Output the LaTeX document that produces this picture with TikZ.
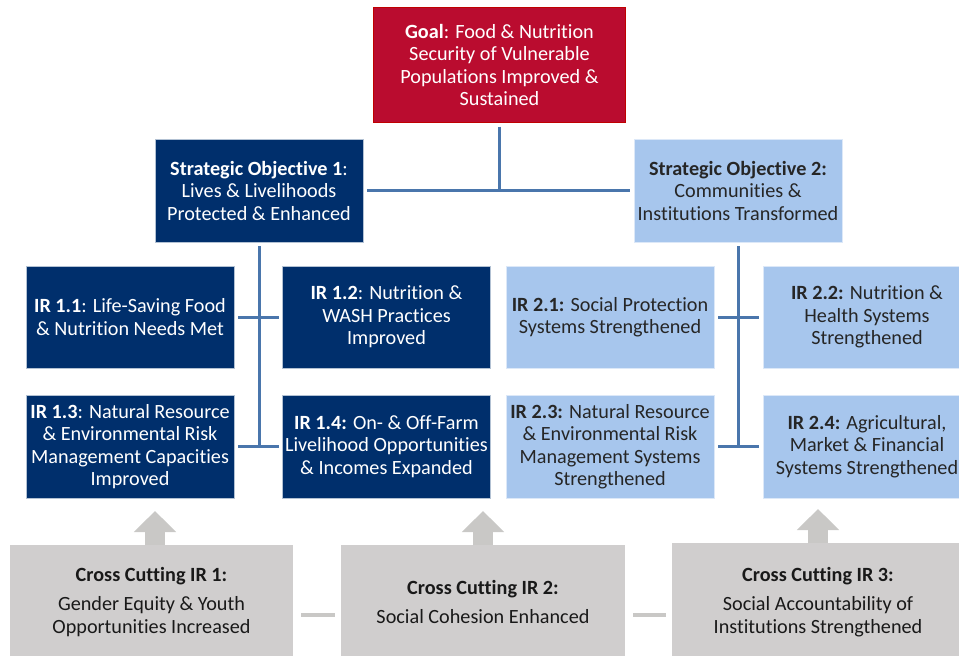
\documentclass[tikz,border=0pt]{standalone}
\usepackage{fontspec}
\setmainfont[Ligatures=NoCommon]{Carlito}
\usepackage{xcolor}
\usetikzlibrary{calc, arrows.meta}
\definecolor{goalred}{HTML}{BA0C2F}
\definecolor{goaledge}{HTML}{C00000}
\definecolor{sonavy}{HTML}{002F6C}
\definecolor{solight}{HTML}{A7C6ED}
\definecolor{linkblue}{HTML}{4A76AC}
\definecolor{ccgray}{HTML}{D0CECE}
\definecolor{ccup}{HTML}{C9C8C6}
\tikzset{
  box/.style={rectangle, align=center, inner sep=2pt, outer sep=4pt,
    font=\fontsize{20.2}{22.5}\selectfont},
  darkbox/.style={box, fill=sonavy, draw=white!70!sonavy, text=white,
    minimum width=208pt, minimum height=103pt},
  lightbox/.style={box, fill=solight, draw=white!60!solight, text=black!85,
    minimum width=208pt, minimum height=103pt},
  ccbox/.style={box, outer sep=0pt, fill=ccgray, text=black!90,
    minimum width=284pt, minimum height=114pt},
  link/.style={linkblue, line width=3pt},
  upto/.style={ccup, line width=20pt, -{Triangle[width=41pt,length=21pt]}},
  ccdash/.style={ccup, line width=4pt, shorten <=8pt, shorten >=6pt},
}

\begin{document}
\begin{tikzpicture}[x=1pt,y=-1pt]
  \useasboundingbox (0,0) rectangle (959,656);
  % goal and strategic objectives
  \node[box, fill=goalred, draw=goaledge, line width=1.5pt, text=white,
    minimum width=252pt, minimum height=115pt] (goal) at (499.5,65)
    {\textbf{Goal}: Food \& Nutrition\\ Security of Vulnerable\\
     Populations Improved \&\\ Sustained};
  \node[darkbox] (so1) at (259,190.5)
    {\textbf{Strategic Objective 1}:\\ Lives \& Livelihoods\\ Protected \& Enhanced};
  \node[lightbox] (so2) at (738,190.5)
    {\textbf{Strategic Objective 2:}\\ Communities \&\\ Institutions Transformed};

  % intermediate results
  \node[darkbox, minimum height=102pt] (ir11) at (130,317)
    {\textbf{IR 1.1}: Life-Saving Food\\ \& Nutrition Needs Met};
  \node[darkbox, minimum height=102pt] (ir12) at (386.5,317)
    {\textbf{IR 1.2}: Nutrition \&\\ WASH Practices\\ Improved};
  \node[darkbox] (ir13) at (130,446.5)
    {\textbf{IR 1.3}: Natural Resource\\ \& Environmental Risk\\
     Management Capacities\\ Improved};
  \node[darkbox] (ir14) at (386.5,446.5)
    {\textbf{IR 1.4:} On- \& Off-Farm\\ Livelihood Opportunities\\
     \& Incomes Expanded};
  \node[lightbox, minimum height=102pt] (ir21) at (610,317)
    {\textbf{IR 2.1:} Social Protection\\ Systems Strengthened};
  \node[lightbox, minimum height=102pt] (ir22) at (867,317)
    {\textbf{IR 2.2:} Nutrition \&\\ Health Systems\\ Strengthened};
  \node[lightbox] (ir23) at (610,446.5)
    {\textbf{IR 2.3:} Natural Resource\\ \& Environmental Risk\\
     Management Systems\\ Strengthened};
  \node[lightbox] (ir24) at (867,446.5)
    {\textbf{IR 2.4:} Agricultural,\\ Market \& Financial\\ Systems Strengthened};

  % cross cutting results
  \node[ccbox, minimum width=283pt] (cc1) at (151.5,602)
    {\textbf{Cross Cutting IR 1:}\\[7pt] Gender Equity \& Youth\\ Opportunities Increased};
  \node[ccbox] (cc2) at (483,602)
    {\textbf{Cross Cutting IR 2:}\\[7pt] Social Cohesion Enhanced};
  \node[ccbox, minimum width=292pt, minimum height=118pt] (cc3) at (818,602)
    {\textbf{Cross Cutting IR 3:}\\[7pt] Social Accountability of\\ Institutions Strengthened};

  % links
  \draw[link] (goal.south) -- (goal.south |- so1.east);
  \draw[link] (so1.east) -- (so2.west);
  \draw[link] (so1.south) -- (so1.south |- ir13.east);
  \draw[link] (so2.south) -- (so2.south |- ir23.east);
  \draw[link] (ir11.east) -- (ir12.west);
  \draw[link] (ir13.east) -- (ir14.west);
  \draw[link] (ir21.east) -- (ir22.west);
  \draw[link] (ir23.east) -- (ir24.west);

  % arrows up from the cross cutting results
  \foreach \cc / \tx / \ty in {cc1/155/511, cc2/483/511, cc3/818/509}
    {\coordinate (tip-\cc) at (\tx,\ty);
     \draw[upto] (tip-\cc |- \cc.north) -- (tip-\cc);}
  \draw[ccdash] ([yshift=-13pt]cc1.east) -- ([yshift=-13pt]cc2.west);
  \draw[ccdash] ([yshift=-13pt]cc2.east) -- ([yshift=-13pt]cc3.west);
\end{tikzpicture}
\end{document}
